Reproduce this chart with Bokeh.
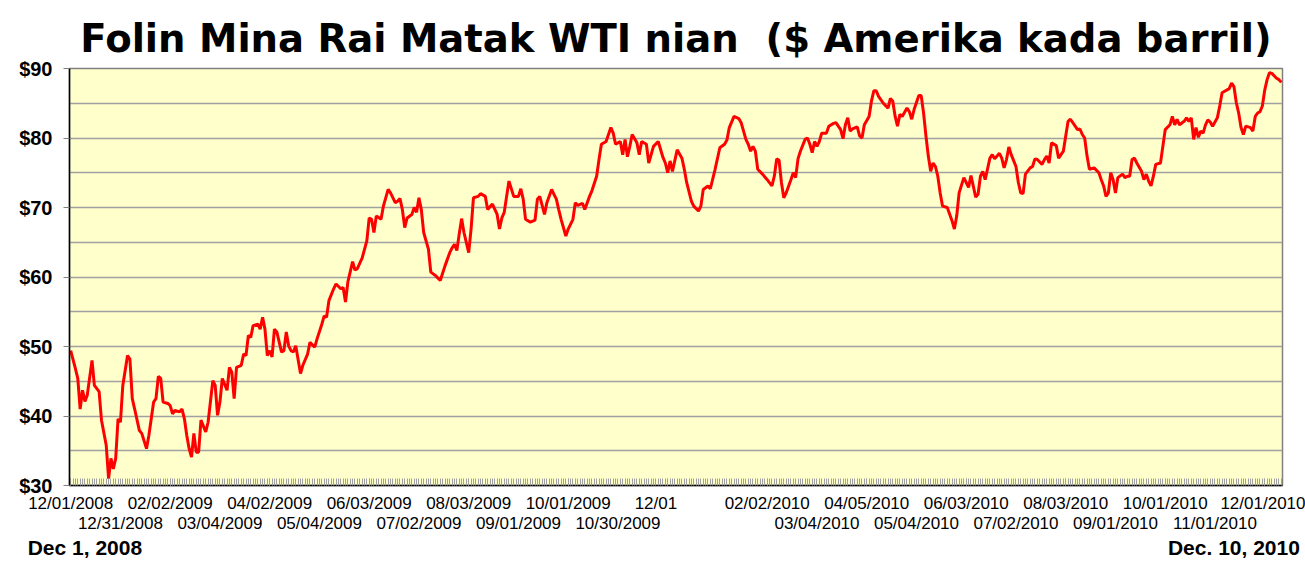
import pandas as pd
from bokeh.plotting import figure
from bokeh.models import (Range1d, FixedTicker, LinearAxis, NumeralTickFormatter, Grid)
from bokeh.embed import file_html
from bokeh.resources import INLINE

# ---------------- data ----------------
title_text = "Folin Mina Rai Matak WTI nian \u00a0($ Amerika kada barril)"
start_label = "Dec 1, 2008"
end_label = "Dec. 10, 2010"

first_day = "2008-12-01"
last_day = "2010-12-10"
holidays = ["2008-12-25", "2009-01-01", "2009-01-19", "2009-02-16", "2009-04-10",
            "2009-05-25", "2009-07-03", "2009-09-07", "2009-11-26", "2009-12-25",
            "2010-01-01", "2010-01-18", "2010-02-15", "2010-04-02", "2010-05-31",
            "2010-07-05", "2010-09-06", "2010-11-25"]

# trading session number (0 = 1 Dec 2008) and WTI price
session = [0, 2, 3, 4, 5, 6, 7, 9, 10, 12, 13, 15, 16, 17, 18, 19, 20, 21, 22, 24,
           25, 26, 27, 29, 30, 32, 33, 35, 36, 37, 38, 39, 41, 42, 43, 44, 46, 47, 48, 49,
           50, 51, 52, 53, 54, 55, 57, 58, 60, 61, 62, 63, 64, 66, 67, 68, 69, 70, 72, 73,
           74, 75, 76, 77, 79, 80, 81, 82, 83, 84, 85, 86, 87, 89, 90, 91, 92, 93, 94, 95,
           97, 98, 100, 101, 103, 104, 106, 107, 108, 109, 111, 112, 114, 115, 116, 117, 119, 120, 121, 123,
           125, 126, 127, 128, 129, 131, 132, 134, 135, 137, 138, 139, 140, 141, 142, 144, 145, 146, 147, 148,
           149, 151, 152, 154, 156, 158, 160, 161, 162, 163, 164, 165, 166, 168, 169, 170, 172, 173, 175, 176,
           178, 180, 181, 182, 183, 184, 185, 187, 189, 190, 191, 192, 194, 196, 197, 198, 200, 201, 203, 204,
           205, 206, 207, 209, 210, 212, 213, 214, 216, 217, 219, 220, 222, 223, 224, 226, 228, 229, 230, 232,
           233, 234, 235, 236, 237, 239, 240, 241, 243, 244, 246, 248, 250, 251, 252, 253, 254, 256, 258, 259,
           260, 262, 263, 265, 266, 267, 269, 270, 272, 274, 276, 277, 278, 280, 282, 283, 285, 286, 287, 288,
           289, 290, 292, 294, 296, 297, 298, 299, 300, 301, 302, 304, 305, 306, 307, 308, 310, 311, 312, 313,
           314, 315, 316, 317, 319, 320, 322, 323, 325, 326, 327, 328, 329, 330, 332, 333, 334, 335, 337, 338,
           339, 340, 341, 343, 345, 346, 347, 348, 349, 350, 351, 353, 354, 355, 356, 358, 359, 360, 361, 362,
           363, 364, 365, 366, 367, 368, 370, 372, 373, 374, 375, 377, 378, 379, 380, 382, 383, 384, 385, 386,
           388, 389, 390, 392, 393, 394, 395, 396, 397, 399, 400, 401, 402, 403, 405, 406, 407, 408, 410, 411,
           412, 413, 414, 416, 417, 419, 420, 421, 422, 424, 425, 426, 427, 428, 429, 430, 432, 434, 435, 436,
           437, 438, 439, 440, 441, 442, 444, 445, 446, 447, 448, 449, 450, 452, 453, 454, 455, 456, 457, 458,
           460, 461, 462, 464, 465, 466, 467, 468, 470, 471, 472, 473, 474, 475, 476, 477, 478, 479, 480, 481,
           482, 484, 485, 486, 488, 489, 490, 491, 492, 493, 494, 495, 496, 498, 499, 500, 501, 502, 503, 504,
           505, 506, 507, 509, 510, 511]
price = [49.4, 46.8, 45.4, 41.0, 43.7, 42.1, 43.0, 48.0, 44.4, 43.5, 39.4, 35.8, 31.0, 33.9, 32.4, 33.9, 39.6, 39.1, 44.4, 48.7,
         48.2, 42.5, 41.0, 37.9, 37.5, 35.3, 37.2, 42.0, 42.5, 45.7, 45.4, 42.0, 41.8, 41.5, 40.3, 40.8, 40.6, 41.0, 39.6, 37.2,
         35.3, 34.1, 37.5, 34.8, 34.8, 39.4, 37.7, 39.1, 45.1, 44.4, 40.1, 42.0, 45.4, 43.7, 47.0, 46.3, 42.5, 47.0, 47.3, 48.9,
         48.7, 51.6, 51.3, 53.0, 53.2, 52.5, 54.2, 52.5, 48.7, 49.4, 48.5, 52.5, 52.1, 49.2, 49.4, 52.1, 50.1, 49.4, 49.2, 50.1,
         46.1, 47.3, 48.9, 50.6, 49.9, 51.1, 53.2, 54.4, 54.2, 56.6, 58.3, 59.0, 58.3, 58.5, 56.4, 59.3, 62.2, 61.0, 61.2, 62.7,
         65.2, 68.5, 68.3, 66.4, 68.8, 68.3, 70.2, 72.6, 72.1, 70.7, 70.9, 71.3, 69.7, 67.1, 68.5, 69.0, 70.0, 69.3, 71.4, 69.7,
         66.4, 64.0, 60.7, 60.2, 59.5, 61.6, 63.5, 64.2, 64.7, 63.8, 66.2, 68.4, 66.4, 63.5, 66.9, 71.4, 71.6, 72.0, 71.6, 69.7,
         70.5, 69.0, 66.9, 68.5, 69.3, 71.6, 73.8, 71.6, 71.6, 72.7, 71.2, 68.3, 67.9, 68.2, 71.2, 71.6, 69.0, 70.7, 72.6, 71.9,
         71.2, 69.7, 68.3, 65.9, 66.9, 68.3, 70.7, 70.3, 70.6, 69.7, 71.6, 72.4, 74.5, 76.9, 79.1, 79.5, 81.5, 80.7, 79.1, 79.5,
         77.6, 79.8, 77.3, 78.8, 80.5, 79.3, 77.6, 79.5, 79.1, 76.4, 78.8, 79.5, 77.2, 76.4, 75.0, 76.7, 75.2, 78.3, 77.1, 75.5,
         73.6, 70.9, 70.2, 69.5, 70.2, 72.6, 73.1, 72.7, 75.5, 78.6, 79.1, 79.7, 81.5, 83.1, 82.8, 82.2, 79.8, 79.1, 78.1, 78.8,
         78.1, 75.5, 74.8, 74.0, 73.1, 74.5, 77.0, 76.8, 73.6, 71.4, 72.1, 74.0, 75.0, 74.3, 77.0, 78.1, 79.8, 80.0, 79.1, 77.9,
         79.5, 78.8, 79.5, 80.7, 80.7, 81.7, 82.1, 82.2, 81.2, 79.9, 81.9, 82.9, 81.0, 81.3, 81.6, 80.3, 80.0, 81.9, 83.1, 85.3,
         86.8, 86.8, 86.0, 85.0, 84.3, 85.7, 85.3, 83.1, 81.7, 83.4, 83.1, 84.3, 83.8, 82.7, 84.1, 86.1, 86.1, 83.6, 80.3, 77.4,
         75.2, 76.4, 75.9, 74.5, 72.1, 70.2, 70.0, 68.1, 66.9, 68.8, 72.1, 74.3, 73.6, 72.9, 74.6, 71.5, 71.9, 74.5, 75.2, 74.0,
         77.1, 77.6, 77.0, 77.8, 77.1, 75.7, 76.9, 78.7, 77.6, 75.9, 73.6, 72.1, 72.0, 74.8, 75.7, 75.9, 77.0, 76.9, 76.2, 76.9,
         77.4, 76.4, 79.3, 78.9, 77.1, 78.1, 80.3, 82.4, 82.7, 81.7, 81.2, 81.3, 80.5, 80.0, 77.4, 75.5, 75.7, 75.0, 74.0, 73.1,
         71.6, 72.1, 75.0, 74.0, 72.1, 74.3, 74.8, 74.3, 74.5, 74.5, 76.9, 77.1, 76.4, 75.2, 74.0, 74.8, 73.8, 73.1, 74.5, 76.2,
         76.4, 78.8, 81.2, 81.9, 83.1, 81.9, 82.7, 81.9, 82.4, 82.9, 82.4, 82.9, 79.8, 81.5, 80.1, 81.0, 80.7, 81.9, 82.6, 82.3,
         81.7, 82.9, 84.6, 86.5, 86.9, 87.1, 87.9, 87.4, 85.1, 83.6, 81.5, 80.5, 81.7, 81.5, 81.0, 83.1, 83.6, 83.8, 84.6, 86.9,
         88.4, 89.4, 89.3, 88.6, 88.4, 88.0]

row1_dates = ["2008-12-01", "2009-02-02", "2009-04-02", "2009-06-03", "2009-08-03",
              "2009-10-01", "2009-12-01", "2010-02-02", "2010-04-05", "2010-06-03",
              "2010-08-03", "2010-10-01", "2010-12-01"]
row1_text = ["12/01/2008", "02/02/2009", "04/02/2009", "06/03/2009", "08/03/2009",
             "10/01/2009", "12/01\u00a0\u00a0\u00a0\u00a0\u00a0", "02/02/2010", "04/05/2010", "06/03/2010",
             "08/03/2010", "10/01/2010", "12/01/2010"]
row2_dates = ["2008-12-31", "2009-03-04", "2009-05-04", "2009-07-02", "2009-09-01",
              "2009-10-30", "2010-03-04", "2010-05-04", "2010-07-02", "2010-09-01",
              "2010-11-01"]
row2_text = ["12/31/2008", "03/04/2009", "05/04/2009", "07/02/2009", "09/01/2009",
             "10/30/2009", "03/04/2010", "05/04/2010", "07/02/2010", "09/01/2010",
             "11/01/2010"]

y_ticks = [30, 40, 50, 60, 70, 80, 90]
y_minor = [35, 45, 55, 65, 75, 85]

# where the two corner date captions sit, in session units
corner_at = [6, 491]

# ---------------- trading calendar ----------------
cal = pd.bdate_range(first_day, last_day)
cal = cal[~cal.isin(pd.to_datetime(holidays))]
pos_of = {d: i for i, d in enumerate(cal)}
row1_pos = [pos_of[pd.Timestamp(d)] for d in row1_dates]
row2_pos = [pos_of[pd.Timestamp(d)] for d in row2_dates]
n_days = len(cal)

# ---------------- figure ----------------
p = figure(width=1305, height=561, output_backend="svg", toolbar_location=None,
           x_range=Range1d(-0.5, n_days - 0.5), y_range=Range1d(y_ticks[0], y_ticks[-1]),
           x_axis_type=None, y_axis_type=None,
           min_border_left=69, min_border_right=23, min_border_top=68, min_border_bottom=74)
p.background_fill_color = "#FFFFCC"
p.border_fill_color = "white"
p.outline_line_color = "#808080"
p.outline_line_width = 1.5

p.title.text = title_text
p.title.align = "center"
p.title.text_font = "DejaVu Sans"
p.title.text_font_style = "bold"
p.title.text_font_size = "38.6px"
p.title.text_color = "black"
p.title.standoff = 16

yticker = FixedTicker(ticks=y_ticks, minor_ticks=y_minor)
yaxis = LinearAxis(ticker=yticker, formatter=NumeralTickFormatter(format="$0"),
                   major_label_text_font="Liberation Sans", major_label_text_font_style="bold",
                   major_label_text_font_size="20px", major_label_text_color="black",
                   axis_line_color="black", axis_line_width=1.5,
                   major_tick_in=0, major_tick_out=6, major_tick_line_color="#808080",
                   minor_tick_line_color=None, major_label_standoff=11)
p.add_layout(yaxis, "left")
p.add_layout(Grid(dimension=1, ticker=yticker, grid_line_color="#a0a0a0", grid_line_width=1.5,
                  minor_grid_line_color="#a0a0a0", minor_grid_line_width=1.5))

xaxis1 = LinearAxis(ticker=FixedTicker(ticks=row1_pos, minor_ticks=list(range(n_days))),
                    major_label_overrides={k: t for k, t in zip(row1_pos, row1_text)},
                    major_label_text_font="Liberation Sans", major_label_text_font_size="17px",
                    major_label_text_color="black",
                    axis_line_color="black", axis_line_width=1.5,
                    major_tick_in=7, major_tick_out=0, major_tick_line_color="#a0a0a0",
                    minor_tick_in=7, minor_tick_out=0, minor_tick_line_color="#a0a0a0",
                    major_label_standoff=8)
p.add_layout(xaxis1, "below")

xaxis2 = LinearAxis(ticker=FixedTicker(ticks=row2_pos),
                    major_label_overrides={k: t for k, t in zip(row2_pos, row2_text)},
                    major_label_text_font="Liberation Sans", major_label_text_font_size="17px",
                    major_label_text_color="black",
                    axis_line_color=None, major_tick_line_color=None, minor_tick_line_color=None,
                    major_tick_in=0, major_tick_out=0, minor_tick_in=0, minor_tick_out=0,
                    major_label_standoff=-2)
p.add_layout(xaxis2, "below")

xaxis3 = LinearAxis(ticker=FixedTicker(ticks=corner_at),
                    major_label_overrides={corner_at[0]: start_label, corner_at[1]: end_label},
                    major_label_text_font="Liberation Sans", major_label_text_font_style="bold",
                    major_label_text_font_size="21px", major_label_text_color="black",
                    axis_line_color=None, major_tick_line_color=None, minor_tick_line_color=None,
                    major_tick_in=0, major_tick_out=0, minor_tick_in=0, minor_tick_out=0,
                    major_label_standoff=0)
p.add_layout(xaxis3, "below")

p.line(session, price, line_color="#FF0000", line_width=3)

open("out.html", "w").write(file_html(p, INLINE))
